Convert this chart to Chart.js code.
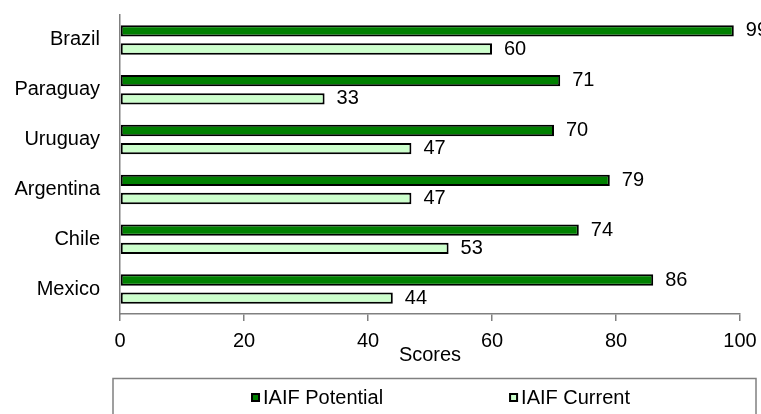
<!DOCTYPE html>
<html>
<head>
<meta charset="utf-8">
<script src="https://cdn.jsdelivr.net/npm/chart.js@4.4.1/dist/chart.umd.min.js"></script>
<style>
  body { margin: 0; background: #fff; }
  #wrap { width: 761px; height: 414px; }
</style>
</head>
<body>
<div id="wrap"><canvas id="scoresChart" width="761" height="414"></canvas></div>
<script>
const countries = ["Brazil", "Paraguay", "Uruguay", "Argentina", "Chile", "Mexico"];
const potentialScores = [99, 71, 70, 79, 74, 86];
const currentScores = [60, 33, 47, 47, 53, 44];
const xTicks = [0, 20, 40, 60, 80, 100];

const FONT = "'Liberation Sans', Arial, sans-serif";

// value labels to the right of each bar
const valueLabels = {
  id: "valueLabels",
  afterDatasetsDraw(chart) {
    const ctx = chart.ctx;
    ctx.save();
    ctx.font = "20px " + FONT;
    ctx.fillStyle = "#000";
    ctx.textBaseline = "middle";
    ctx.textAlign = "left";
    chart.data.datasets.forEach((ds, i) => {
      chart.getDatasetMeta(i).data.forEach((bar, j) => {
        ctx.fillText(ds.data[j], bar.x + 12, bar.y);
      });
    });
    ctx.restore();
  }
};

// boxed legend under the axis title
const boxLegend = {
  id: "boxLegend",
  afterDraw(chart) {
    const ctx = chart.ctx;
    const left = chart.chartArea.left - 7;
    const right = chart.width - 5;
    const top = 378.5;
    ctx.save();
    ctx.strokeStyle = "#808080";
    ctx.lineWidth = 1.5;
    ctx.strokeRect(left, top, right - left, 60);

    ctx.font = "20px " + FONT;
    ctx.textBaseline = "middle";
    const box = 9, gap = 3, between = 126;
    const items = chart.data.datasets.map(ds => ({
      label: ds.label,
      color: ds.backgroundColor,
      w: box + gap + ctx.measureText(ds.label).width
    }));
    const total = items.reduce((s, it) => s + it.w, 0) + between * (items.length - 1);
    let x = (left + right) / 2 - total / 2 + 6;
    const y = top + 19;
    items.forEach(it => {
      ctx.fillStyle = it.color;
      ctx.fillRect(x, y - box / 2, box, box);
      ctx.strokeStyle = "#000";
      ctx.lineWidth = 2;
      ctx.strokeRect(x + 1, y - box / 2 + 1, box - 2, box - 2);
      ctx.fillStyle = "#000";
      ctx.fillText(it.label, x + box + gap, y + 1);
      x += it.w + between;
    });
    ctx.restore();
  }
};

new Chart(document.getElementById("scoresChart"), {
  type: "bar",
  data: {
    labels: countries,
    datasets: [
      {
        label: "IAIF Potential",
        data: potentialScores,
        backgroundColor: "#008000",
        borderColor: "#000",
        borderWidth: 2,
        borderSkipped: false,
        categoryPercentage: 0.73,
        barPercentage: 0.62
      },
      {
        label: "IAIF Current",
        data: currentScores,
        backgroundColor: "#ccffcc",
        borderColor: "#000",
        borderWidth: 2,
        borderSkipped: false,
        categoryPercentage: 0.73,
        barPercentage: 0.62
      }
    ]
  },
  options: {
    indexAxis: "y",
    responsive: false,
    animation: false,
    layout: { padding: { top: 15, right: 21, bottom: 47, left: 0 } },
    plugins: {
      legend: { display: false },
      tooltip: { enabled: false }
    },
    scales: {
      x: {
        min: 0,
        max: 100,
        afterBuildTicks: scale => { scale.ticks = xTicks.map(v => ({ value: v })); },
        grid: { drawOnChartArea: false, tickLength: 7, color: "#808080", lineWidth: 1.5 },
        border: { color: "#808080", width: 1.5 },
        ticks: { color: "#000", font: { family: FONT, size: 20 }, padding: 8, maxRotation: 0 },
        title: {
          display: true,
          text: "Scores",
          color: "#000",
          font: { family: FONT, size: 20 },
          padding: { top: 0, bottom: 0 }
        },
        afterFit: scale => {
          scale.height = 53;
          scale.paddingLeft = 0;
          scale.paddingRight = 0;
        }
      },
      y: {
        grid: { display: false, tickLength: 0 },
        border: { display: true, color: "#808080", width: 1.5 },
        ticks: { color: "#000", font: { family: FONT, size: 20 }, padding: 20 },
        afterFit: scale => {
          scale.width = 120;
          scale.paddingTop = 0;
          scale.paddingBottom = 0;
        }
      }
    }
  },
  plugins: [valueLabels, boxLegend]
});
</script>
</body>
</html>
